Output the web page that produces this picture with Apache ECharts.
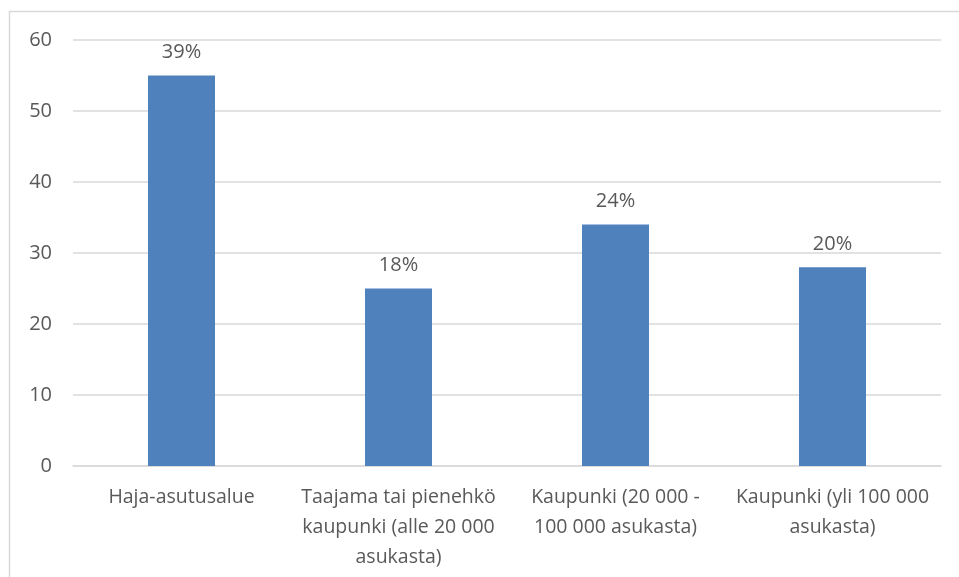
<!DOCTYPE html>
<html>
<head>
<meta charset="utf-8">
<script src="https://cdn.jsdelivr.net/npm/echarts@6/dist/echarts.min.js"></script>
<style>
  html, body { margin: 0; padding: 0; background: #fff; }
  #chart { width: 959px; height: 577px; }
</style>
</head>
<body>
<div id="chart"></div>
<script>
const categories = [
  'Haja-asutusalue',
  'Taajama tai pienehkö\nkaupunki (alle 20 000\nasukasta)',
  'Kaupunki (20 000 -\n100 000 asukasta)',
  'Kaupunki (yli 100 000\nasukasta)',
]
const values = [55, 25, 34, 28]
const shares = ['39%', '18%', '24%', '20%']

const font = '"Open Sans", "Noto Sans", sans-serif'
const chart = echarts.init(document.getElementById('chart'))
chart.setOption({
  animation: false,
  graphic: [{
    type: 'rect',
    shape: { x: 9.5, y: 11.5, width: 1000, height: 1000 },
    style: { fill: 'none', stroke: '#d9d9d9', lineWidth: 1.5 },
  }],
  grid: { left: 73, right: 18, top: 40, bottom: 111 },
  xAxis: {
    type: 'category',
    data: categories,
    axisLine: { lineStyle: { color: '#d9d9d9', width: 1.5 } },
    axisTick: { show: false },
    axisLabel: {
      color: '#595959',
      fontFamily: font,
      fontSize: 19.5,
      lineHeight: 30,
      margin: 16,
      interval: 0,
    },
  },
  yAxis: {
    type: 'value',
    min: 0,
    max: 60,
    interval: 10,
    axisLine: { show: false },
    axisTick: { show: false },
    splitLine: { lineStyle: { color: '#d9d9d9', width: 1.5 } },
    axisLabel: {
      color: '#595959',
      fontFamily: font,
      fontSize: 20,
      margin: 21,
    },
  },
  series: [{
    type: 'bar',
    data: values,
    barWidth: 67,
    itemStyle: { color: '#4f81bd' },
    label: {
      show: true,
      position: 'top',
      distance: 13,
      color: '#595959',
      fontFamily: font,
      fontSize: 20,
      formatter: p => shares[p.dataIndex],
    },
  }],
})
</script>
</body>
</html>
